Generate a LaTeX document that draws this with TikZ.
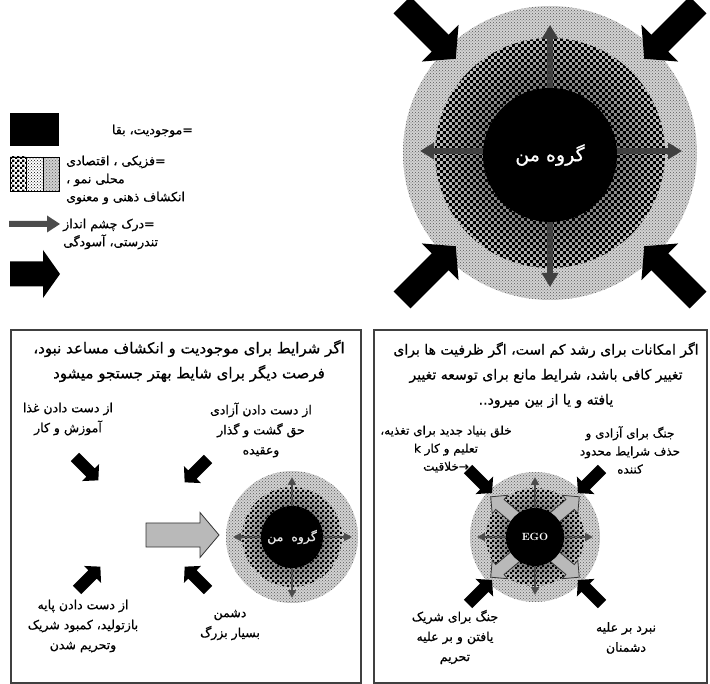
\documentclass[tikz,border=0pt]{standalone}
\usepackage{fontspec}
\usetikzlibrary{patterns,arrows.meta,calc}
\newfontfamily\farsi[Script=Arabic, FakeBold=0.7]{DejaVu Sans}
\TeXXeTstate=1
\newcommand{\rl}[1]{\beginR #1\endR}
% block arrow: [style]{tail}{angle}{length}{body half}{head half}{head length}
\newcommand{\blockarrow}[7][fill=black]{%
  \path[#1, shift={#2}, rotate=#3]
    (0,-#5) -- ({#4-#7},-#5) -- ({#4-#7},-#6) -- (#4,0)
    -- ({#4-#7},#6) -- ({#4-#7},#5) -- (0,#5) -- cycle;}
% fine checker patterns
\pgfdeclarepatternformonly{smallcheck}{\pgfpointorigin}{\pgfqpoint{6.4pt}{6.4pt}}{\pgfqpoint{6.4pt}{6.4pt}}{%
  \pgfpathrectangle{\pgfpointorigin}{\pgfqpoint{3.2pt}{3.2pt}}%
  \pgfpathrectangle{\pgfqpoint{3.2pt}{3.2pt}}{\pgfqpoint{3.2pt}{3.2pt}}%
  \pgfusepath{fill}}
\pgfdeclarepatternformonly{tinycheck}{\pgfpointorigin}{\pgfqpoint{5pt}{5pt}}{\pgfqpoint{5pt}{5pt}}{%
  \pgfpathrectangle{\pgfpointorigin}{\pgfqpoint{2.5pt}{2.5pt}}%
  \pgfpathrectangle{\pgfqpoint{2.5pt}{2.5pt}}{\pgfqpoint{2.5pt}{2.5pt}}%
  \pgfusepath{fill}}

\tikzset{
  outerring/.style={circle, inner sep=0pt, outer sep=0pt, fill=gray!35,
    postaction={pattern=crosshatch dots, pattern color=gray!70!black}},
  midring/.style={circle, inner sep=0pt, outer sep=0pt, inner color=black!85, outer color=gray!45,
    postaction={pattern=#1, pattern color=black}},
  midring/.default=smallcheck,
  core/.style={circle, inner sep=0pt, outer sep=0pt, fill=black, text=white},
  boxline/.style={draw=black!75, line width=1.2pt},
  legtext/.style={font=\farsi\fontsize{12.5}{18}\selectfont, inner sep=0pt},
  titletext/.style={font=\farsi\fontsize{15}{25}\selectfont, align=center, inner sep=0pt},
  lbltext/.style={font=\farsi\fontsize{12.5}{20}\selectfont, align=center, inner sep=0pt},
  smalltext/.style={font=\farsi\fontsize{12}{18}\selectfont, align=center, inner sep=0pt},
  bigdbl/.style={draw=black!75, line width=6pt,
    {Triangle[length=14pt,width=16pt]}-{Triangle[length=14pt,width=16pt]}},
  smalldbl/.style={draw=black!70, line width=2.5pt,
    {Triangle[length=8pt,width=8pt]}-{Triangle[length=8pt,width=8pt]}},
  grayarrow/.style={fill=gray!55, draw=black!80, line width=0.8pt},
}

\begin{document}
\begin{tikzpicture}[x=1pt,y=1pt,yscale=-1,xscale=1]
    \useasboundingbox (0,0) rectangle (710,684);

    %Legend
    \fill[black] (10,113) rectangle (59,146);
    \fill[pattern=tinycheck] (10,157) rectangle (26,191);
    \fill[pattern=crosshatch dots] (26,157) rectangle (43,191);
    \fill[gray!35] (43,157) rectangle (59,191);
    \fill[pattern=crosshatch dots, pattern color=gray!70!black] (43,157) rectangle (59,191);
    \draw (10,157) rectangle (59,191) (26,157) -- (26,191) (43,157) -- (43,191);
    \blockarrow[fill=black!70]{(9,224)}{0}{51}{3}{8.5}{13}
    \blockarrow{(10,274)}{0}{50}{12.5}{24}{17}

    % Text Node
    \node[legtext, anchor=east] (legsurvive) at (193,131) {\rl{=موجودیت، بقا}};
    % Text Node
    \node[legtext, anchor=west, align=left] (legphys) at (66,180) {\rl{=فزیکی ، اقتصادی}\\\rl{محلی نمو ،}\\\rl{انکشاف ذهنی و معنوی}};
    % Text Node
    \node[legtext, anchor=west, align=left] (legvision) at (63,234) {\rl{=درک چشم انداز}\\\rl{تندرستی، آسودگی}};

    %Top circle
    \node[outerring, minimum size=294pt] (topouter) at (550,153) {};
    \node[midring, minimum size=230pt] (topmid) at (550,153) {};
    \draw[bigdbl] ($(topouter)+(-130,-2)$) -- ($(topouter)+(132,-2)$);
    \draw[bigdbl] ($(topouter)+(0,-128)$) -- ($(topouter)+(0,134)$);
    \node[core, minimum size=134pt, font=\farsi\fontsize{19}{21}\selectfont] (topcore) at (550,155) {\rl{گروه من}};
    \blockarrow{(402,5)}{45}{76}{12}{26}{22}
    \blockarrow{(698,5)}{135}{76}{12}{26}{22}
    \blockarrow{(402,300)}{-45}{76}{12}{26}{22}
    \blockarrow{(698,300)}{-135}{76}{12}{26}{22}

    %Boxes
    \draw[boxline] (11,330) rectangle (361,683);
    \draw[boxline] (374,330) rectangle (707,683);

    %Left box
    \node[titletext] (lefttitle) at (189,361) {\rl{اگر شرایط برای موجودیت و انکشاف مساعد نبود،}\\\rl{فرصت دیگر برای  شایط بهتر جستجو میشود}};
    \node[lbltext] (lostfood) at (68,419) {\rl{از دست دادن غذا}\\\rl{آموزش و کار}};
    \node[lbltext] (lostfree) at (261,430) {\rl{از دست دادن آزادی}\\\rl{حق گشت و گذار}\\\rl{وعقیده}};
    \node[lbltext] (lostbase) at (83,626) {\rl{از دست دادن پایه}\\\rl{بازتولید، کمبود شریک}\\\rl{وتحریم شدن}};
    \node[lbltext] (enemy) at (230,625) {\rl{دشمن}\\\rl{بسیار بزرگ}};

    \node[outerring, minimum size=132pt] (leftouter) at (292,537) {};
    \node[midring=tinycheck, minimum size=100pt] (leftmid) at (292,537) {};
    \draw[smalldbl] ($(leftouter)+(-59,0)$) -- ($(leftouter)+(60,0)$);
    \draw[smalldbl] ($(leftouter)+(0,-60)$) -- ($(leftouter)+(0,61)$);
    \node[core, minimum size=62pt, text=gray!20, font=\farsi\fontsize{12.5}{14}\selectfont] (leftcore) at (292,537) {\rl{گروه\ \ من}};
    \blockarrow[grayarrow]{(146,535)}{0}{73}{12}{22.5}{19}
    \blockarrow{(75,457)}{45}{33}{6}{12}{11}
    \blockarrow{(208,459)}{135}{33}{6}{12}{11}
    \blockarrow{(77,590)}{-45}{33}{6}{12}{11}
    \blockarrow{(208,590)}{-135}{33}{6}{12}{11}

    %Right box
    \node[titletext, font=\farsi\fontsize{14}{25}\selectfont] (righttitle) at (546,375) {\rl{اگر امکانات برای رشد کم است، اگر ظرفیت ها برای}\\\rl{تغییر کافی باشد، شرایط مانع برای توسعه تغییر}\\\rl{یافته و یا از بین میرود..}};
    \node[smalltext] (newbase) at (446,449) {\rl{خلق بنیاد جدید برای تغذیه،}\\\rl{تعلیم و کار k}\\\rl{خلاقیت}→};
    \node[smalltext] (warfree) at (630,450) {\rl{جنگ برای آزادی و}\\\rl{حذف شرایط محدود}\\\rl{کننده}};
    \node[lbltext] (warpartner) at (455,637) {\rl{جنگ برای شریک}\\\rl{یافتن و بر علیه}\\\rl{تحریم}};
    \node[lbltext] (fightenemy) at (626,638) {\rl{نبرد بر علیه}\\\rl{دشمنان}};

    \node[outerring, minimum size=130pt] (rightouter) at (535,537) {};
    \node[midring=tinycheck, minimum size=98pt] (rightmid) at (535,537) {};
    \draw[smalldbl] ($(rightouter)+(-58,0)$) -- ($(rightouter)+(58,0)$);
    \draw[smalldbl] ($(rightouter)+(0,-60)$) -- ($(rightouter)+(0,58)$);
    \blockarrow[grayarrow]{(516,518)}{220}{33}{6.5}{12}{12}
    \blockarrow[grayarrow]{(554,518)}{-40}{33}{6.5}{12}{12}
    \blockarrow[grayarrow]{(516,556)}{140}{33}{6.5}{12}{12}
    \blockarrow[grayarrow]{(554,556)}{40}{33}{6.5}{12}{12}
    \node[core, minimum size=58pt, font=\rmfamily\bfseries\fontsize{10.5}{12}\selectfont] (rightcore) at (535,537) {EGO};
    \blockarrow{(468,469)}{45}{34}{6}{12.5}{11}
    \blockarrow{(602,469)}{135}{34}{6}{12.5}{11}
    \blockarrow{(468,604)}{-45}{34}{6}{12.5}{11}
    \blockarrow{(602,604)}{-135}{34}{6}{12.5}{11}
\end{tikzpicture}
\end{document}
